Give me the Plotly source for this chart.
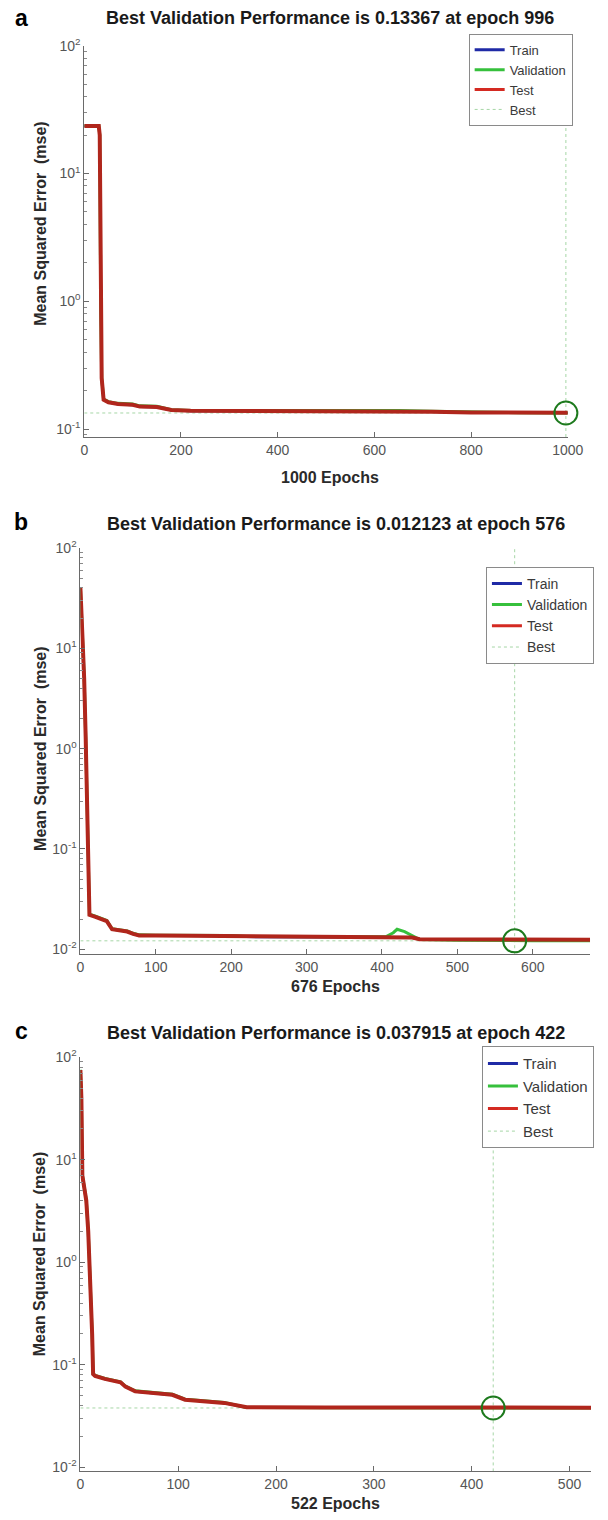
import math
import plotly.graph_objects as go

# ---------------- data ----------------
# Panel a: 1000 epochs
a_epochs = [0, 30, 32, 33, 34, 36, 40, 50, 70, 100, 115, 150, 165, 180, 220, 400, 650, 720, 800, 900, 996, 1000]
a_train = [23.45, 23.45, 19.9, 2.48, 0.89, 0.248, 0.169, 0.161, 0.156, 0.154, 0.149, 0.148, 0.144, 0.140, 0.138, 0.138, 0.138, 0.136, 0.134, 0.1338, 0.1336, 0.1336]
a_val = [23.6, 23.6, 20.1, 2.52, 0.91, 0.253, 0.172, 0.164, 0.159, 0.157, 0.152, 0.151, 0.147, 0.142, 0.140, 0.140, 0.140, 0.138, 0.136, 0.1345, 0.13367, 0.1337]
a_test = [23.5, 23.5, 20.0, 2.5, 0.9, 0.25, 0.170, 0.162, 0.157, 0.155, 0.150, 0.149, 0.145, 0.141, 0.139, 0.139, 0.139, 0.137, 0.135, 0.1345, 0.1343, 0.1343]
a_best_epoch, a_best_value = 996, 0.13367
a_xticks = [0, 200, 400, 600, 800, 1000]

# Panel b: 676 epochs
b_epochs = [0, 3, 5, 7, 8, 9, 10, 11, 12, 20, 30, 35, 42, 50, 62, 70, 78, 100, 200, 220, 300, 405, 415, 420, 430, 440, 450, 500, 576, 600, 676]
b_train = [40, 14, 5.0, 1.3, 0.6, 0.35, 0.1, 0.035, 0.0219, 0.0209, 0.0194, 0.0189, 0.0157, 0.0154, 0.0149, 0.0141, 0.0136, 0.0136, 0.0135, 0.0132, 0.0132, 0.0131, 0.0131, 0.0131, 0.0130, 0.0130, 0.0125, 0.0124, 0.0123, 0.0123, 0.0123]
b_val = [40.5, 14.2, 5.1, 1.32, 0.61, 0.355, 0.102, 0.0355, 0.0223, 0.0213, 0.0198, 0.0193, 0.0160, 0.0157, 0.0152, 0.0144, 0.0139, 0.0138, 0.0137, 0.0134, 0.0134, 0.0133, 0.0146, 0.0158, 0.0150, 0.0136, 0.0125, 0.0123, 0.012123, 0.01214, 0.01215]
b_test = [40, 14, 5.0, 1.3, 0.6, 0.35, 0.1, 0.035, 0.022, 0.021, 0.0195, 0.019, 0.0158, 0.0155, 0.0150, 0.0142, 0.0137, 0.0137, 0.0136, 0.0133, 0.0133, 0.0132, 0.0132, 0.0132, 0.0131, 0.0131, 0.0126, 0.0125, 0.0124, 0.0124, 0.0124]
b_best_epoch, b_best_value = 576, 0.012123
b_xticks = [0, 100, 200, 300, 400, 500, 600]

# Panel c: 522 epochs
c_epochs = [0, 1, 2, 4, 6, 8, 10, 12, 13, 15, 25, 41, 46, 56, 94, 107, 147, 170, 250, 422, 522]
c_train = [75, 40, 7.0, 5.0, 4.0, 2.0, 0.72, 0.2, 0.0805, 0.0775, 0.0723, 0.0671, 0.0607, 0.0546, 0.0506, 0.0453, 0.0421, 0.0381, 0.0380, 0.0379, 0.0379]
c_val = [75.5, 40.5, 7.1, 5.05, 4.05, 2.02, 0.73, 0.202, 0.0818, 0.0787, 0.0735, 0.0683, 0.0619, 0.0557, 0.0516, 0.0462, 0.0430, 0.0384, 0.0381, 0.037915, 0.03793]
c_test = [75, 40, 7.0, 5.0, 4.0, 2.0, 0.72, 0.2, 0.081, 0.078, 0.0728, 0.0676, 0.0612, 0.055, 0.051, 0.0457, 0.0425, 0.0385, 0.0383, 0.0382, 0.0382]
c_best_epoch, c_best_value = 422, 0.037915
c_xticks = [0, 100, 200, 300, 400, 500]

series_names = ["Train", "Validation", "Test", "Best"]
panel_letters = ["a", "b", "c"]
titles = ["Best Validation Performance is 0.13367 at epoch 996",
          "Best Validation Performance is 0.012123 at epoch 576",
          "Best Validation Performance is 0.037915 at epoch 422"]
xlabels = ["1000 Epochs", "676 Epochs", "522 Epochs"]
ylabel = "Mean Squared Error  (mse)"

# ---------------- styles ----------------
W, H = 608, 1520
TRAIN_C = "#1f2aa6"
VAL_C = "#36c03c"
TEST_C = "#d42a22"
TEST_LINE_C = "#b0261c"
BEST_C = "#a6d6a6"
CIRCLE_C = "#1d7a1d"
AXIS_C = "#6a6a6a"
FAM = "Liberation Sans, Arial, sans-serif"
TICKFONT = dict(family=FAM, size=14, color="#555555")
LABELFONT = dict(family=FAM, size=16, color="#2a2a2a")
TITLEFONT = dict(family=FAM, size=18, color="#1a1a1a")


def px_x(p):
    return p / W


def px_y(p):
    return 1 - p / H


panels = [
    dict(ep=a_epochs, tr=a_train, va=a_val, te=a_test, be=a_best_epoch, bv=a_best_value,
         xt=a_xticks, n=1000, xdom=(83, 583), ydom=(431, 36), yr=(-1.062, 2.0),
         title_y=8, title_x=337, xlab_y=472, ylab_y=215, letter_y=8,
         leg_x=588, leg_y=24, leg_fs=13),
    dict(ep=b_epochs, tr=b_train, va=b_val, te=b_test, be=b_best_epoch, bv=b_best_value,
         xt=b_xticks, n=676, xdom=(79, 606), ydom=(953, 543), yr=(-2.05, 2.0),
         title_y=519, title_x=343, xlab_y=986, ylab_y=745, letter_y=517,
         leg_x=610, leg_y=562, leg_fs=14),
    dict(ep=c_epochs, tr=c_train, va=c_val, te=c_test, be=c_best_epoch, bv=c_best_value,
         xt=c_xticks, n=522, xdom=(79, 607), ydom=(1475, 1057), yr=(-2.04, 2.0),
         title_y=1033, title_x=343, xlab_y=1507, ylab_y=1255, letter_y=1030,
         leg_x=610, leg_y=1046, leg_fs=15),
]

fig = go.Figure()
annotations = []
layout_axes = {}
sup = {-2: "10<sup>-2</sup>", -1: "10<sup>-1</sup>", 0: "10<sup>0</sup>", 1: "10<sup>1</sup>", 2: "10<sup>2</sup>"}

for i, p in enumerate(panels):
    k = "" if i == 0 else str(i + 1)
    xa, ya = "x" + k, "y" + k
    leg = "legend" + k
    # best lines
    fig.add_trace(go.Scatter(x=[p["be"], p["be"]], y=[10 ** p["yr"][0], 10 ** p["yr"][1]], mode="lines",
                             line=dict(color=BEST_C, width=1, dash="dot"), showlegend=False,
                             xaxis=xa, yaxis=ya, hoverinfo="skip"))
    fig.add_trace(go.Scatter(x=[0, p["n"]], y=[p["bv"], p["bv"]], mode="lines",
                             line=dict(color=BEST_C, width=1, dash="dot"), showlegend=False,
                             xaxis=xa, yaxis=ya, hoverinfo="skip"))
    # series
    fig.add_trace(go.Scatter(x=p["ep"], y=p["tr"], mode="lines", line=dict(color=TRAIN_C, width=2),
                             showlegend=False, xaxis=xa, yaxis=ya, name=series_names[0]))
    fig.add_trace(go.Scatter(x=p["ep"], y=p["va"], mode="lines", line=dict(color=VAL_C, width=3),
                             showlegend=False, xaxis=xa, yaxis=ya, name=series_names[1]))
    fig.add_trace(go.Scatter(x=p["ep"], y=p["te"], mode="lines", line=dict(color=TEST_LINE_C, width=4),
                             showlegend=False, xaxis=xa, yaxis=ya, name=series_names[2]))
    # best circle
    fig.add_trace(go.Scatter(x=[p["be"]], y=[p["bv"]], mode="markers", cliponaxis=False,
                             marker=dict(symbol="circle-open", size=23, color=CIRCLE_C,
                                         line=dict(width=2, color=CIRCLE_C)),
                             showlegend=False, xaxis=xa, yaxis=ya))
    # legend entries
    for nm, col, dash, wd in [(series_names[0], TRAIN_C, "solid", 3), (series_names[1], VAL_C, "solid", 3),
                              (series_names[2], TEST_C, "solid", 3), (series_names[3], BEST_C, "dot", 1)]:
        fig.add_trace(go.Scatter(x=[None], y=[None], mode="lines", name=nm,
                                 line=dict(color=col, width=wd, dash=dash),
                                 legend=leg, xaxis=xa, yaxis=ya))
    layout_axes[leg] = dict(x=px_x(p["leg_x"]), xanchor="right", y=px_y(p["leg_y"]), yanchor="top",
                            bgcolor="white", bordercolor="#8a8a8a", borderwidth=1,
                            font=dict(family=FAM, size=p["leg_fs"], color="#3a3a3a"),
                            itemwidth=30, tracegroupgap=0)
    lo, hi = p["yr"]
    decs = [d for d in range(-2, 3) if lo - 1e-9 <= d <= hi + 1e-9]
    minor_vals = [m * 10 ** d for d in range(-3, 3) for m in range(2, 10)
                  if lo <= math.log10(m * 10 ** d) <= hi]
    layout_axes["xaxis" + k] = dict(domain=[px_x(p["xdom"][0]), px_x(p["xdom"][1])], range=[0, p["n"]],
                                    anchor=ya, showline=True, linecolor=AXIS_C, linewidth=1,
                                    ticks="inside", ticklen=5, tickcolor=AXIS_C, tickvals=p["xt"],
                                    tickfont=TICKFONT, showgrid=False, zeroline=False, fixedrange=True)
    layout_axes["yaxis" + k] = dict(domain=[px_y(p["ydom"][0]), px_y(p["ydom"][1])], type="log",
                                    range=[lo, hi], anchor=xa, showline=True, linecolor=AXIS_C, linewidth=1,
                                    ticks="inside", ticklen=5, tickcolor=AXIS_C,
                                    tickvals=[10 ** d for d in decs], ticktext=[sup[d] for d in decs],
                                    tickfont=TICKFONT, showgrid=False, zeroline=False,
                                    minor=dict(ticks="inside", ticklen=3, tickcolor="#8a8a8a",
                                               tickvals=minor_vals, showgrid=False),
                                    fixedrange=True)
    annotations += [
        dict(text="<b>%s</b>" % titles[i], x=px_x(p["title_x"]), y=px_y(p["title_y"]), xref="paper", yref="paper",
             showarrow=False, font=TITLEFONT, xanchor="center", yanchor="middle"),
        dict(text="<b>%s</b>" % xlabels[i], x=px_x(p["title_x"]), y=px_y(p["xlab_y"]), xref="paper", yref="paper",
             showarrow=False, font=LABELFONT, xanchor="center", yanchor="middle"),
        dict(text="<b>%s</b>" % ylabel, x=px_x(37), y=px_y(p["ylab_y"]), xref="paper", yref="paper",
             showarrow=False, font=LABELFONT, textangle=-90, xanchor="center", yanchor="middle"),
        dict(text="<b>%s</b>" % panel_letters[i], x=px_x(18), y=px_y(p["letter_y"]), xref="paper", yref="paper",
             showarrow=False, font=dict(family=FAM, size=23, color="black"),
             xanchor="center", yanchor="middle"),
    ]

fig.update_layout(width=W, height=H, margin=dict(l=0, r=0, t=0, b=0), plot_bgcolor="white",
                  paper_bgcolor="white", annotations=annotations, showlegend=True, **layout_axes)
fig.write_html("out.html")
